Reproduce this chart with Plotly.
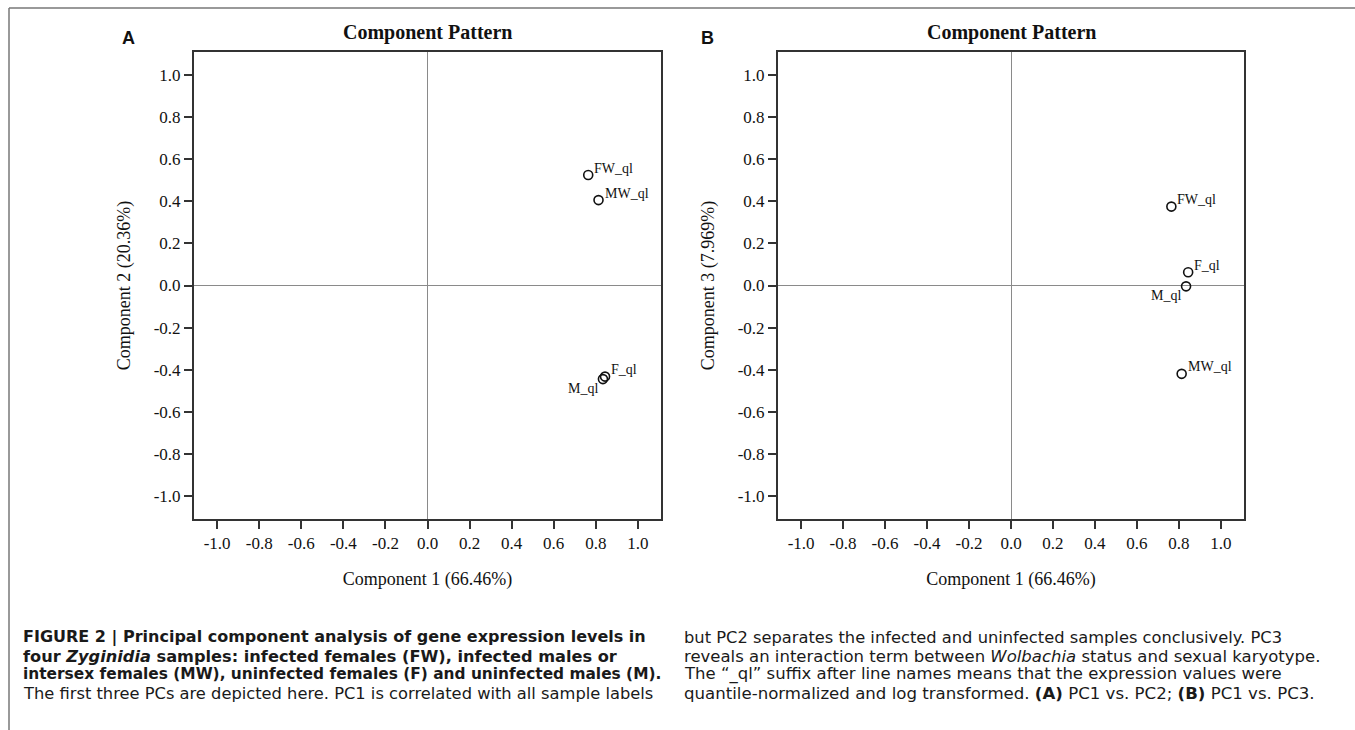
import plotly.graph_objects as go

# ---------------- data ----------------
samples = ["FW_ql", "MW_ql", "F_ql", "M_ql"]
pc1 = [0.764, 0.813, 0.844, 0.834]
pc2 = [0.525, 0.406, -0.433, -0.445]
pc3 = [0.375, -0.420, 0.063, -0.004]
label_side = ["upper-right", "upper-right", "upper-right", "lower-left"]

tick_vals = [-1.0, -0.8, -0.6, -0.4, -0.2, 0.0, 0.2, 0.4, 0.6, 0.8, 1.0]
tick_text = ["-1.0", "-0.8", "-0.6", "-0.4", "-0.2", "0.0", "0.2", "0.4", "0.6", "0.8", "1.0"]

x_title = "Component 1 (66.46%)"
y_title_a = "Component 2 (20.36%)"
y_title_b = "Component 3 (7.969%)"
panel_title = "Component Pattern"
panel_letters = ["A", "B"]

caption_left = [
    "<b>FIGURE 2 | Principal component analysis of gene expression levels in</b>",
    "<b>four <i>Zyginidia</i> samples: infected females (FW), infected males or</b>",
    "<b>intersex females (MW), uninfected females (F) and uninfected males (M).</b>",
    "The first three PCs are depicted here. PC1 is correlated with all sample labels",
]
caption_right = [
    "but PC2 separates the infected and uninfected samples conclusively. PC3",
    "reveals an interaction term between <i>Wolbachia</i> status and sexual karyotype.",
    "The \u201c_ql\u201d suffix after line names means that the expression values were",
    "quantile-normalized and log transformed. <b>(A)</b> PC1 vs. PC2; <b>(B)</b> PC1 vs. PC3.",
]

# ---------------- layout geometry ----------------
W, H = 1355, 730
SERIF = "Liberation Serif, Times New Roman, serif"
SANS = "Liberation Sans, Arial, sans-serif"
CAPTION_FONT = "DejaVu Sans, Liberation Sans, Arial, sans-serif"


def px_x(p):
    return p / W


def px_y(p):
    return 1 - p / H


dom_a = [px_x(194), px_x(661)]
dom_b = [px_x(778), px_x(1244)]
dom_y = [px_y(519), px_y(52)]
rng = [-1.11, 1.11]

fig = go.Figure()

marker = dict(symbol="circle-open", size=9, color="#111", line=dict(width=1.6, color="#111"))

fig.add_trace(go.Scatter(x=pc1, y=pc2, mode="markers", marker=marker, text=samples,
                         xaxis="x", yaxis="y", showlegend=False, cliponaxis=False))
fig.add_trace(go.Scatter(x=pc1, y=pc3, mode="markers", marker=marker, text=samples,
                         xaxis="x2", yaxis="y2", showlegend=False, cliponaxis=False))

axis_common = dict(
    range=rng, tickmode="array", tickvals=tick_vals, ticktext=tick_text,
    ticks="outside", ticklen=8, tickwidth=1.5, tickcolor="#333",
    showline=True, linewidth=2, linecolor="#333", mirror=True,
    showgrid=False, zeroline=True, zerolinecolor="#8a8a8a", zerolinewidth=1.2,
    tickfont=dict(family=SERIF, size=17, color="#111"),
    fixedrange=True,
)

fig.update_layout(
    width=W, height=H,
    margin=dict(l=0, r=0, t=0, b=0),
    paper_bgcolor="white", plot_bgcolor="white",
    xaxis=dict(domain=dom_a, anchor="y",
               title=dict(text=x_title, standoff=20, font=dict(family=SERIF, size=18, color="#111")),
               **axis_common),
    yaxis=dict(domain=dom_y, anchor="x",
               title=dict(text=y_title_a, standoff=18, font=dict(family=SERIF, size=18, color="#111")),
               **axis_common),
    xaxis2=dict(domain=dom_b, anchor="y2",
                title=dict(text=x_title, standoff=20, font=dict(family=SERIF, size=18, color="#111")),
                **axis_common),
    yaxis2=dict(domain=dom_y, anchor="x2",
                title=dict(text=y_title_b, standoff=18, font=dict(family=SERIF, size=18, color="#111")),
                **axis_common),
)

annotations = []
# point labels, anchored to the data points
for xref, yref, ys in [("x", "y", pc2), ("x2", "y2", pc3)]:
    for name, xv, yv, side in zip(samples, pc1, ys, label_side):
        if side == "upper-right":
            annotations.append(dict(text=name, x=xv, y=yv, xref=xref, yref=yref, showarrow=False,
                                    xanchor="left", yanchor="middle", xshift=4, yshift=7,
                                    font=dict(family=SERIF, size=14, color="#111")))
        else:
            annotations.append(dict(text=name, x=xv, y=yv, xref=xref, yref=yref, showarrow=False,
                                    xanchor="right", yanchor="middle", xshift=-3, yshift=-9,
                                    font=dict(family=SERIF, size=14, color="#111")))

for dom, letter, lx in [(dom_a, panel_letters[0], 128), (dom_b, panel_letters[1], 707)]:
    annotations.append(dict(text="<b>" + panel_title + "</b>", x=(dom[0] + dom[1]) / 2, y=px_y(33),
                            xref="paper", yref="paper", showarrow=False, xanchor="center", yanchor="middle",
                            font=dict(family=SERIF, size=20, color="#111")))
    annotations.append(dict(text="<b>" + letter + "</b>", x=px_x(lx), y=px_y(38),
                            xref="paper", yref="paper", showarrow=False, xanchor="center", yanchor="middle",
                            font=dict(family=SANS, size=18, color="#111")))

line_y = [637, 656, 674, 693]
left_sizes = [16.0, 16.2, 15.4, 16.3]
right_sizes = [16.3, 16.5, 16.5, 16.6]
for i, t in enumerate(caption_left):
    annotations.append(dict(text=t, x=px_x(21), y=px_y(line_y[i]), xref="paper", yref="paper",
                            showarrow=False, xanchor="left", yanchor="middle", align="left",
                            font=dict(family=CAPTION_FONT, size=left_sizes[i], color="#1a1a1a")))
for i, t in enumerate(caption_right):
    annotations.append(dict(text=t, x=px_x(682), y=px_y(line_y[i]), xref="paper", yref="paper",
                            showarrow=False, xanchor="left", yanchor="middle", align="left",
                            font=dict(family=CAPTION_FONT, size=right_sizes[i], color="#1a1a1a")))
fig.update_layout(annotations=annotations)

# outer figure frame (top and left rules)
fig.add_shape(type="line", xref="paper", yref="paper", x0=px_x(9), x1=1, y0=px_y(8), y1=px_y(8),
              line=dict(color="#777", width=1.5))
fig.add_shape(type="line", xref="paper", yref="paper", x0=px_x(9), x1=px_x(9), y0=px_y(8), y1=0,
              line=dict(color="#777", width=1.5))

fig.write_html("out.html", config={"displayModeBar": False},
               post_script="document.body.style.margin='0px';")
